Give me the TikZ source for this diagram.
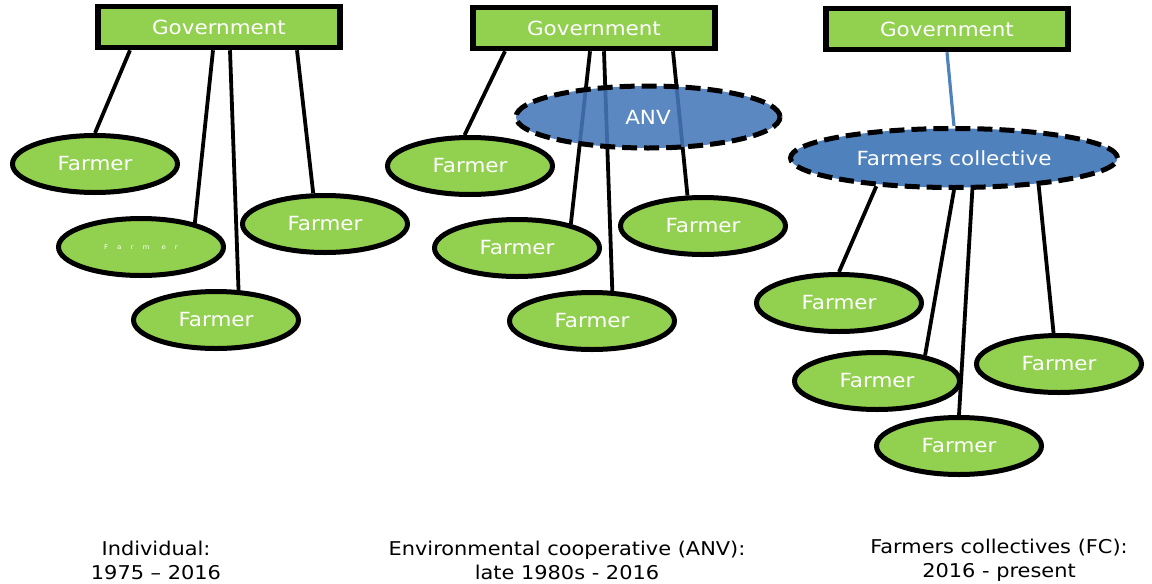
\documentclass[tikz,border=0pt]{standalone}
\usepackage{fontspec}
\setmainfont{DejaVu Sans}[FakeStretch=1.1]
\usetikzlibrary{shapes.geometric,backgrounds}

\definecolor{leafgreen}{HTML}{92D050}
\definecolor{anvblue}{HTML}{4677BA}
\definecolor{fcblue}{HTML}{4F81BD}

\begin{document}
\begin{tikzpicture}[x=1pt, y=-1pt,
    govbox/.style={draw, line width=5.5pt, fill=leafgreen, minimum width=242pt, minimum height=41pt, inner sep=0pt, text=white, font=\fontsize{19.5}{22}\selectfont},
    farmer/.style={ellipse, draw, line width=5pt, fill=leafgreen, minimum width=165pt, minimum height=57pt, inner sep=0pt, text=white, font=\fontsize{19.5}{22}\selectfont},
    groupnode/.style={ellipse, draw, line width=5pt, dash pattern=on 15pt off 7pt, inner sep=0pt, text=white, font=\fontsize{19.5}{22}\selectfont},
    link/.style={line width=3.8pt},
    period/.style={align=center, font=\fontsize{19}{24}\selectfont}]

\useasboundingbox (0,0) rectangle (1152,584);

% Individual
\node[govbox] (gov1) at (219,27) {Government};
\node[farmer] (f11) at (95,164) {Farmer};
\node[farmer] (f12) at (141,247) {\fontsize{6.5}{6.5}\selectfont F\hspace{9pt}a\hspace{9pt}r\hspace{9pt}m\hspace{12pt}e\hspace{9pt}r};
\node[farmer] (f13) at (325,224) {Farmer};
\node[farmer] (f14) at (216,320) {Farmer};

\begin{scope}[on background layer]
\draw[link] ([xshift=-89pt]gov1.south) -- (f11.north);
\draw[link] ([xshift=-6pt]gov1.south) -- (f12.24);
\draw[link] ([xshift=11pt]gov1.south) -- (f14.53);
\draw[link] ([xshift=78pt]gov1.south) -- (f13.111);
\end{scope}

% Environmental cooperative
\node[govbox] (gov2) at (594,28) {Government};
\node[farmer] (f21) at (470,166) {Farmer};
\node[farmer] (f22) at (517,248) {Farmer};
\node[farmer] (f23) at (703,226) {Farmer};
\node[farmer] (f24) at (592,321) {Farmer};
\node[groupnode, fill=anvblue, fill opacity=0.88, text opacity=1, minimum width=264pt, minimum height=62pt] (anv) at (648,117) {ANV};

\begin{scope}[on background layer]
\draw[link] ([xshift=-89pt]gov2.south) -- (f21.100);
\draw[link] ([xshift=-4pt]gov2.south) -- (f22.24);
\draw[link] ([xshift=10pt]gov2.south) -- (f24.56);
\draw[link] ([xshift=79pt]gov2.south) -- (f23.117);
\end{scope}

% Farmers collective
\node[govbox] (gov3) at (947,29) {Government};
\node[groupnode, fill=fcblue, minimum width=327pt, minimum height=59pt] (fc) at (954,158) {Farmers collective};
\node[farmer] (f31) at (839,303) {Farmer};
\node[farmer] (f32) at (877,381) {Farmer};
\node[farmer] (f33) at (1059,364) {Farmer};
\node[farmer] (f34) at (959,446) {Farmer};

\begin{scope}[on background layer]
\draw[line width=3.2pt, fcblue] (gov3.south) -- (fc.north);
\draw[link] (fc.-160) -- (f31.north);
\draw[link] (fc.south) -- (f32.28);
\draw[link] (fc.-60) -- (f34.north);
\draw[link] (fc.-18) -- (f33.100);
\end{scope}

% Periods
\node[period] (p1) at (156,560) {Individual:\\1975 – 2016};
\node[period] (p2) at (567,560) {Environmental cooperative (ANV):\\late 1980s - 2016};
\node[period] (p3) at (999,560) {Farmers collectives (FC):\\2016 - present};

\end{tikzpicture}
\end{document}
